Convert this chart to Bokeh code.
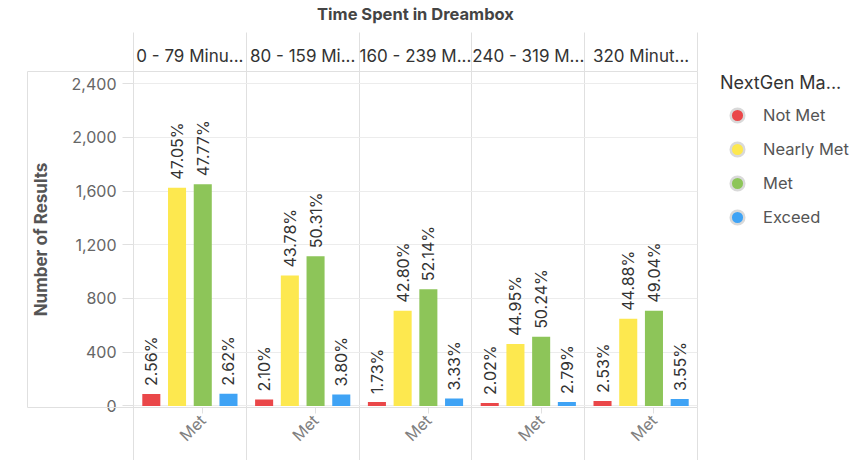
import math
from bokeh.plotting import figure
from bokeh.layouts import row
from bokeh.models import (ColumnDataSource, Range1d, LinearAxis, FixedTicker,
                          NumeralTickFormatter, Legend, LegendItem)
from bokeh.core.properties import value
from bokeh.embed import file_html
from bokeh.resources import INLINE

# ---------------- data ----------------
groups = ["0 - 79 Minu...", "80 - 159 Mi...", "160 - 239 M...", "240 - 319 M...", "320 Minut..."]
series = ["Not Met", "Nearly Met", "Met", "Exceed"]
colors = ["#EA4749", "#FDE84F", "#8DC559", "#3FA3F5"]

not_met = [88, 47, 29, 21, 37]
nearly_met = [1625, 970, 709, 460, 649]
met = [1650, 1115, 868, 514, 709]
exceed = [91, 84, 55, 29, 51]

pct_not_met = ["2.56%", "2.10%", "1.73%", "2.02%", "2.53%"]
pct_nearly_met = ["47.05%", "43.78%", "42.80%", "44.95%", "44.88%"]
pct_met = ["47.77%", "50.31%", "52.14%", "50.24%", "49.04%"]
pct_exceed = ["2.62%", "3.80%", "3.33%", "2.79%", "3.55%"]

y_ticks = [0, 400, 800, 1200, 1600, 2000, 2400]
x_tick_label = "Met"
title_text = "Time Spent in Dreambox"
y_title = "Number of Results"
legend_title = "NextGen Ma..."

values = [not_met, nearly_met, met, exceed]
pcts = [pct_not_met, pct_nearly_met, pct_met, pct_exceed]

# ---------------- layout / style ----------------
FONT = "Inter"
GRID = "#ececec"
SEP = "#e0e0e0"
n = len(groups)
offsets = [-0.342, -0.114, 0.114, 0.342]
bar_w = 0.16
centers = [i + 0.5 for i in range(n)]
bounds = [float(i) for i in range(n + 1)]
Y0, Y1 = -12, 2490

p = figure(width=698, height=460, output_backend="svg", toolbar_location=None,
           x_range=Range1d(0, n), y_range=Range1d(Y0, Y1),
           min_border_left=133, min_border_right=1, min_border_top=71,
           min_border_bottom=53)
p.background_fill_color = "white"
p.border_fill_color = "white"
p.outline_line_color = SEP
p.title.text = ""

# grids
p.xgrid.ticker = FixedTicker(ticks=bounds[1:-1])
p.xgrid.grid_line_color = SEP
p.ygrid.ticker = FixedTicker(ticks=y_ticks)
p.ygrid.grid_line_color = GRID

# y axis
ya = p.yaxis[0]
ya.ticker = FixedTicker(ticks=y_ticks)
ya.formatter = NumeralTickFormatter(format="0,0")
ya.major_tick_out = 11
ya.major_tick_in = 0
ya.minor_tick_out = 0
ya.minor_tick_in = 0
ya.major_tick_line_color = SEP
ya.axis_line_color = None
ya.major_label_text_font = FONT
ya.major_label_text_font_size = "16px"
ya.major_label_text_color = "#666666"
ya.major_label_standoff = 6
ya.axis_label = y_title
ya.axis_label_text_font = FONT
ya.axis_label_text_font_style = "bold"
ya.axis_label_text_font_size = "17px"
ya.axis_label_text_color = "#555555"
ya.axis_label_standoff = 18

# spacer axis, then an outer axis whose line + inward ticks draw the box around the y-axis area
spacer = LinearAxis(ticker=FixedTicker(ticks=[]), major_tick_out=23, major_tick_in=0,
                    minor_tick_out=0, minor_tick_in=0, axis_line_color=None,
                    major_label_standoff=0)
p.add_layout(spacer, "left")
boxax = LinearAxis(ticker=FixedTicker(ticks=[Y0, Y1]), major_tick_in=124, major_tick_out=0,
                   minor_tick_out=0, minor_tick_in=0,
                   major_tick_line_color=SEP, axis_line_color=SEP,
                   major_label_overrides={Y0: "", Y1: ""}, major_label_standoff=0)
p.add_layout(boxax, "left")

# bottom axis ("Met" under the Met bar of each panel); minor ticks = panel separators
met_idx = series.index("Met")
met_ticks = [c + offsets[met_idx] for c in centers]
xa = p.xaxis[0]
xa.ticker = FixedTicker(ticks=met_ticks, minor_ticks=bounds)
xa.major_label_overrides = {t: x_tick_label for t in met_ticks}
xa.major_label_orientation = math.pi / 4
xa.major_tick_out = 6
xa.major_tick_in = 0
xa.major_tick_line_color = SEP
xa.minor_tick_out = 54
xa.minor_tick_in = 0
xa.minor_tick_line_color = SEP
xa.axis_line_color = None
xa.major_label_text_font = FONT
xa.major_label_text_font_size = "16px"
xa.major_label_text_color = "#808080"
xa.major_label_standoff = -44

# top axis: panel headers + chart title as its axis label; minor ticks = panel separators
ta = LinearAxis(ticker=FixedTicker(ticks=centers, minor_ticks=bounds),
                major_label_overrides={c: g for c, g in zip(centers, groups)})
ta.major_tick_out = 0
ta.major_tick_in = 0
ta.minor_tick_out = 39
ta.minor_tick_in = 0
ta.minor_tick_line_color = SEP
ta.axis_line_color = None
ta.major_label_text_font = FONT
ta.major_label_text_font_size = "17px"
ta.major_label_text_color = "#333333"
ta.major_label_standoff = -33
ta.axis_label = title_text
ta.axis_label_text_font = FONT
ta.axis_label_text_font_style = "bold"
ta.axis_label_text_font_size = "16.5px"
ta.axis_label_text_color = "#444444"
ta.axis_label_standoff = 19
p.add_layout(ta, "above")

# bars + labels
for j, s in enumerate(series):
    src = ColumnDataSource(dict(x=[c + offsets[j] for c in centers], top=values[j], lab=pcts[j]))
    p.vbar(x="x", top="top", bottom=0, width=bar_w, source=src,
           fill_color=colors[j], line_color=None)
    p.text(x="x", y="top", text="lab", source=src, angle=math.pi / 2,
           text_align="left", text_baseline="middle", y_offset=-8,
           text_font=value(FONT), text_font_size="16px", text_color="#333333")

# legend in its own small figure to the right
lf = figure(width=157, height=460, output_backend="svg", toolbar_location=None,
            x_range=Range1d(0, 1), y_range=Range1d(0, 1),
            x_axis_location=None, y_axis_location=None,
            min_border_left=21, min_border_right=0, min_border_top=71, min_border_bottom=53)
lf.outline_line_color = None
lf.background_fill_color = "white"
lf.border_fill_color = "white"
lf.title.text = ""
for g in lf.grid:
    g.visible = False
items = []
for j, s in enumerate(series):
    dummy = lf.scatter(x=[float("nan")], y=[float("nan")], marker="circle", size=17,
                       fill_color=colors[j], line_color="#d9d9d9", line_width=2.5)
    items.append(LegendItem(label=s, renderers=[dummy]))

legend = Legend(items=items, title=legend_title, location="top_left")
legend.title_text_font = FONT
legend.title_text_font_size = "18px"
legend.title_text_font_style = "normal"
legend.title_text_color = "#333333"
legend.title_standoff = 5
legend.label_text_font = FONT
legend.label_text_font_size = "16.5px"
legend.label_text_color = "#555555"
legend.glyph_width = 34
legend.glyph_height = 34
legend.label_height = 34
legend.label_standoff = 9
legend.spacing = 0
legend.padding = 0
legend.margin = 1
legend.border_line_color = None
legend.background_fill_color = None
legend.background_fill_alpha = 0
lf.add_layout(legend)

layout = row(p, lf)
open("out.html", "w").write(file_html(layout, INLINE))
